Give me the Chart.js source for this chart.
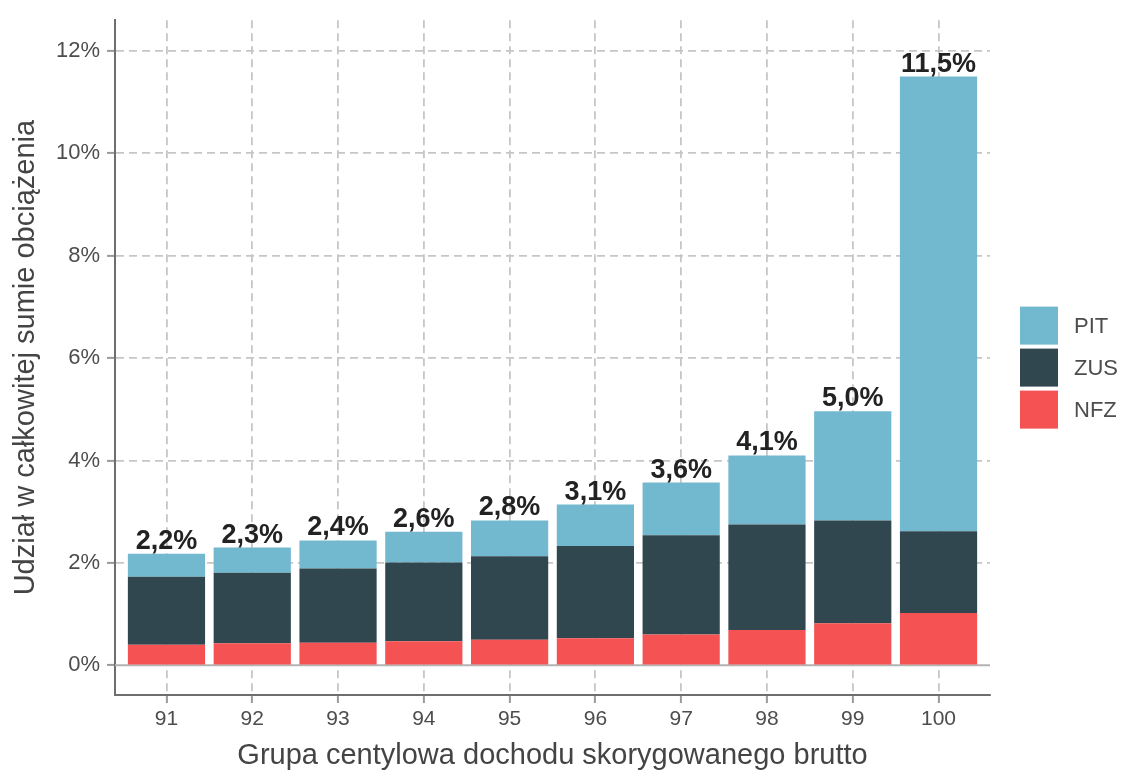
<!DOCTYPE html>
<html>
<head>
<meta charset="utf-8">
<script src="https://cdn.jsdelivr.net/npm/chart.js@4.4.1/dist/chart.umd.min.js"></script>
<style>
  html, body { margin: 0; padding: 0; background: #fff; }
</style>
</head>
<body>
<canvas id="taxChart" width="1123" height="773"></canvas>
<script>
// grupy centylowe i udziały składowych (w %)
const percentiles = [91, 92, 93, 94, 95, 96, 97, 98, 99, 100];
const nfz = [0.40, 0.43, 0.44, 0.47, 0.50, 0.53, 0.60, 0.69, 0.82, 1.02];
const zus = [1.33, 1.38, 1.45, 1.54, 1.63, 1.80, 1.94, 2.06, 2.01, 1.60];
const pit = [0.45, 0.49, 0.55, 0.60, 0.70, 0.81, 1.03, 1.35, 2.13, 8.88];
const yTicks = [0, 2, 4, 6, 8, 10, 12];

const FONT = "'Liberation Sans', Arial, sans-serif";
const TEXT = "#4d4d4d";
const GRID = "#c6c6c6";

function toPoints(values) {
  return values.map((v, i) => ({ x: percentiles[i], y: v }));
}

function fmt(v) {
  return (Math.round(v * 10) / 10).toFixed(1).replace(".", ",") + "%";
}

// linia zera - ciągła, reszta siatki przerywana
const zeroLine = {
  id: "zeroLine",
  beforeDatasetsDraw(chart) {
    const { ctx, chartArea, scales } = chart;
    const y0 = scales.y.getPixelForValue(0);
    ctx.save();
    ctx.strokeStyle = "#b3b3b3";
    ctx.lineWidth = 2;
    ctx.beginPath();
    ctx.moveTo(chartArea.left, y0);
    ctx.lineTo(chartArea.right, y0);
    ctx.stroke();
    ctx.restore();
  },
};

// suma nad każdym słupkiem
const totalLabels = {
  id: "totalLabels",
  afterDatasetsDraw(chart) {
    const { ctx } = chart;
    const last = chart.getDatasetMeta(chart.data.datasets.length - 1);
    ctx.save();
    ctx.font = "bold 27px " + FONT;
    ctx.fillStyle = "#222";
    ctx.textAlign = "center";
    ctx.textBaseline = "alphabetic";
    last.data.forEach((bar, i) => {
      const total = nfz[i] + zus[i] + pit[i];
      ctx.fillText(fmt(total), bar.x, bar.y - 5);
    });
    ctx.restore();
  },
};

// legenda po prawej stronie
const sideLegend = {
  id: "sideLegend",
  afterDraw(chart) {
    const { ctx, chartArea } = chart;
    const items = chart.data.datasets.slice().reverse();
    const box = 38, gap = 4;
    const x = chartArea.right + 30;
    const h = items.length * box + (items.length - 1) * gap;
    let y = (chartArea.top + chartArea.bottom) / 2 + 10 - h / 2;
    ctx.save();
    ctx.font = "22px " + FONT;
    ctx.textBaseline = "middle";
    ctx.textAlign = "left";
    items.forEach((ds) => {
      ctx.fillStyle = ds.backgroundColor;
      ctx.fillRect(x, y, box, box);
      ctx.fillStyle = TEXT;
      ctx.fillText(ds.label, x + box + 16, y + box / 2 + 1);
      y += box + gap;
    });
    ctx.restore();
  },
};

const ctx = document.getElementById("taxChart").getContext("2d");

new Chart(ctx, {
  type: "bar",
  data: {
    datasets: [
      { label: "NFZ", data: toPoints(nfz), backgroundColor: "#f45253" },
      { label: "ZUS", data: toPoints(zus), backgroundColor: "#30474f" },
      { label: "PIT", data: toPoints(pit), backgroundColor: "#72b8ce" },
    ],
  },
  options: {
    responsive: false,
    animation: false,
    layout: { padding: { top: 15, right: 133, left: 0, bottom: 0 } },
    datasets: {
      bar: { barPercentage: 0.9, categoryPercentage: 1, borderWidth: 0 },
    },
    plugins: {
      legend: { display: false },
      tooltip: { enabled: false },
    },
    scales: {
      x: {
        type: "linear",
        stacked: true,
        offset: false,
        min: 90.4,
        max: 100.6,
        afterBuildTicks: (scale) => {
          scale.ticks = percentiles.map((v) => ({ value: v }));
        },
        afterFit: (scale) => {
          scale.height = 78;
        },
        ticks: {
          autoSkip: false,
          maxRotation: 0,
          padding: 4,
          color: TEXT,
          font: { family: FONT, size: 21 },
          callback: (v) => String(v),
        },
        grid: {
          offset: false,
          color: GRID,
          lineWidth: 1.8,
          tickColor: "#9a9a9a",
          tickLength: 8,
          tickWidth: 2,
          tickBorderDash: [],
        },
        border: { display: true, color: "#6e6e6e", width: 2, dash: [8, 5] },
        title: {
          display: true,
          text: "Grupa centylowa dochodu skorygowanego brutto",
          color: "#444",
          font: { family: FONT, size: 29 },
          padding: { top: 0, bottom: 0 },
        },
      },
      y: {
        stacked: true,
        min: -0.58,
        max: 12.6,
        afterBuildTicks: (scale) => {
          scale.ticks = yTicks.map((v) => ({ value: v }));
        },
        afterFit: (scale) => {
          scale.width = 115;
        },
        ticks: {
          padding: 7,
          color: TEXT,
          font: { family: FONT, size: 22 },
          callback: (v) => v + "%",
        },
        grid: {
          color: (c) => (c.tick && c.tick.value === 0 ? "rgba(0,0,0,0)" : GRID),
          lineWidth: 1.8,
          tickColor: "#9a9a9a",
          tickLength: 8,
          tickWidth: 2,
          tickBorderDash: [],
        },
        border: { display: true, color: "#6e6e6e", width: 2, dash: [8, 5] },
        title: {
          display: true,
          text: "Udział w całkowitej sumie obciążenia",
          color: "#444",
          font: { family: FONT, size: 29 },
          padding: { top: 9, bottom: 0 },
        },
      },
    },
  },
  plugins: [zeroLine, totalLabels, sideLegend],
});
</script>
</body>
</html>
